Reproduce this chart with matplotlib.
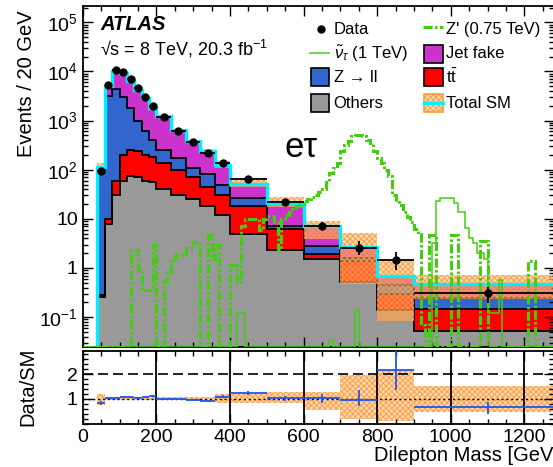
import numpy as np
import matplotlib
matplotlib.use("Agg")
import matplotlib.pyplot as plt
from matplotlib.patches import Rectangle
from matplotlib.lines import Line2D
from matplotlib.ticker import (FixedLocator, FixedFormatter, MultipleLocator,
                               NullFormatter, LogLocator)

plt.rcParams["font.family"] = ["Liberation Sans", "DejaVu Sans"]
plt.rcParams["mathtext.fontset"] = "custom"
plt.rcParams["mathtext.rm"] = "Liberation Sans"
plt.rcParams["mathtext.it"] = "Liberation Sans:italic"
plt.rcParams["mathtext.bf"] = "Liberation Sans:bold"
plt.rcParams["mathtext.sf"] = "Liberation Sans"
plt.rcParams["hatch.linewidth"] = 0.6
plt.rcParams["hatch.color"] = "#ff9933"

# ---------------- background binning and yields (events / 20 GeV) ----------------
bin_edges = [40, 60, 80, 100, 120, 140, 160, 180, 200, 240, 280, 320, 360,
             400, 500, 600, 700, 800, 900, 1300]
others = [0.26, 8, 30, 60, 75, 70, 60, 55, 40, 30, 25, 18, 12, 5, 2.3, 1.5, 0.51, 0.14, 0.052]
ttbar = [0.02, 2, 30, 140, 175, 170, 140, 125, 100, 70, 45, 27, 18, 13, 4, 0.45, 0.9, 0.16, 0.092]
zll = [105, 3200, 4400, 2800, 1550, 760, 400, 220, 110, 70, 40, 35, 20, 8, 0.7, 0.85, 0.2, 0.15, 0.096]
total_sm = [114, 5050, 10000, 9150, 6500, 4290, 2830, 1790, 1212, 633, 381, 239, 125,
            52, 21.4, 7.1, 2.66, 0.68, 0.47]
# relative systematic band on the total SM prediction
band_lo = [0.75, 0.94, 0.94, 0.94, 0.94, 0.94, 0.94, 0.94, 0.94, 0.94, 0.94, 0.92, 0.85,
           0.85, 0.83, 0.56, 0.18, 0.12, 0.49]
band_hi = [1.20, 1.06, 1.06, 1.06, 1.06, 1.06, 1.06, 1.06, 1.06, 1.06, 1.06, 1.08, 1.20,
           1.25, 1.29, 1.29, 1.97, 2.17, 1.53]

data = [95, 5200, 10500, 9700, 6900, 4500, 3000, 2000, 1200, 620, 370, 215, 135,
        64, 22, 7.3, 2.5, 1.47, 0.31]
data_err_lo = [10, 70, 100, 100, 80, 70, 55, 45, 25, 18, 14, 10, 8, 4, 2.2, 1.3, 0.64, 0.55, 0.12]
data_err_hi = [10, 70, 100, 100, 80, 70, 55, 45, 25, 18, 14, 10, 8, 4, 2.2, 1.3, 1.1, 0.63, 0.10]

# ---------------- signal templates (10 GeV bins from 0 to 1300) ----------------
sig_edges = list(range(0, 1310, 10))
zprime_075 = [
    0, 0, 0, 0, 0, 0, 0, 0, 0, 0,
    0, 0, 0, 2.3, 2.3, 0.9, 0.35, 0.35, 0.35, 3.0,
    0, 0, 0.55, 0.83, 1.5, 1.8, 1.8, 1.8, 2.5, 2.5,
    3.4, 3.4, 0, 0, 4.6, 1.5, 3.0, 0, 0, 0,
    1.15, 1.15, 0.52, 7.3, 10, 10, 10, 10, 6, 10,
    11.7, 11.7, 8.5, 2.3, 10, 12, 14, 16, 18, 20,
    23, 25, 28, 30, 35, 41, 55, 86, 108, 137,
    237, 323, 377, 477, 515, 515, 477, 407, 348, 237,
    173, 137, 100, 73, 30, 22, 18.7, 13.7, 10.8, 8.6,
    6.3, 5, 0.07, 0, 4.6, 4.6, 0, 0, 0, 0,
    4.6, 4.6, 0, 0, 0, 0, 0, 0, 3.6, 3.6,
    0, 0, 0, 0, 0, 0, 0, 0, 0, 0,
    0, 1.4, 1.4, 0, 0, 0, 0, 0, 0, 0,
]
sneutrino_1tev = [
    0, 0, 0, 0, 0, 0, 0, 0, 0, 0,
    0, 0, 0, 0, 0, 0, 0, 0, 0, 0,
    0, 0, 0, 0, 0, 0, 0, 0, 0, 0,
    0, 0, 0, 0, 0, 0, 0, 0, 0, 0,
    0, 0, 0.12, 0.12, 0, 0, 0, 0, 0, 0,
    0, 0, 0, 0, 0, 0, 0, 0, 0, 0,
    0, 0, 0, 0, 0, 0, 0, 0.035, 0, 0,
    0, 0, 0, 0, 0.14, 0, 0, 0, 0, 0,
    0, 0, 0, 0, 0, 0, 0, 0, 0, 0,
    0, 0, 0, 0, 0, 3.2, 23, 26, 26, 26,
    27, 21, 14, 14, 6.6, 4.1, 3.2, 2.0, 2.0, 1.5,
    0.12, 0.12, 0.12, 0.57, 0, 0, 0, 0, 0, 0,
    0, 0, 0, 0, 0, 0, 0, 0, 0, 0,
]

yticks_main = [0.1, 1, 10, 100, 1e3, 1e4, 1e5]
yticklabels_main = [r"$10^{-1}$", "1", "10", r"$10^{2}$", r"$10^{3}$", r"$10^{4}$", r"$10^{5}$"]

# ---------------- colours ----------------
c_others = "#999999"
c_ttbar = "#ff0000"
c_zll = "#3366cc"
c_fake = "#cc33cc"
c_total = "#00f0ff"
c_band = "#ff9933"
band_fc = (1.0, 0.72, 0.45, 0.55)
c_sig = "#44cc11"
c_ratio = "#2255ee"

W, H = 553, 467
fig = plt.figure(figsize=(W / 100, H / 100), dpi=100)


def px_rect(x0, y0, x1, y1):
    return [x0 / W, 1 - y1 / H, (x1 - x0) / W, (y1 - y0) / H]


def fx(x):
    return x / W


def fy(y):
    return 1 - y / H


ax = fig.add_axes(px_rect(82.7, 5.5, 553.8, 346.7))
rax = fig.add_axes(px_rect(82.7, 350.5, 553.8, 423.7))

YMIN, YMAX = 0.025, 2.2e5
XMAX = 1280

edges = np.array(bin_edges, dtype=float)
centers = 0.5 * (edges[1:] + edges[:-1])
halfw = 0.5 * (edges[1:] - edges[:-1])
o = np.array(others)
t = np.array(ttbar)
z = np.array(zll)
tot = np.array(total_sm)
lv1 = o
lv2 = o + t
lv3 = o + t + z
lv4 = tot
floor = np.full_like(tot, 1e-5)

# stacked backgrounds
for lower, upper, col in [(floor, lv1, c_others), (lv1, lv2, c_ttbar),
                          (lv2, lv3, c_zll), (lv3, lv4, c_fake)]:
    ax.stairs(upper, edges, baseline=lower, fill=True, facecolor=col,
              edgecolor="none", linewidth=0, zorder=1)
for lev in [lv1, lv2, lv3, lv4]:
    ax.stairs(lev, edges, baseline=None, color="k", linewidth=1.3, zorder=2)

# total SM uncertainty band
ax.stairs(tot * np.array(band_hi), edges, baseline=tot * np.array(band_lo), fill=True,
          facecolor=band_fc, edgecolor=c_band, hatch="xxxxxx",
          linewidth=0, zorder=3)
ax.stairs(tot, edges, baseline=1e-5, color=c_total, linewidth=2.4, zorder=4)

# signals
sig_e = np.array(sig_edges, dtype=float)
zp = np.array(zprime_075, dtype=float)
sn = np.array(sneutrino_1tev, dtype=float)
ax.stairs(np.where(zp > 0, zp, YMIN), sig_e, baseline=None, color=c_sig,
          linewidth=2.2, linestyle=(0, (3.0, 0.8, 0.8, 0.8)), zorder=5)
ax.stairs(np.where(sn > 0, sn, YMIN), sig_e, baseline=None, color=c_sig,
          linewidth=1.1, zorder=5)

# data
d = np.array(data)
ax.errorbar(centers, d, xerr=halfw, yerr=[data_err_lo, data_err_hi], fmt="o",
            color="k", markersize=5, elinewidth=1.3, capsize=0, zorder=6)

ax.set_yscale("log")
ax.set_ylim(YMIN, YMAX)
ax.set_xlim(0, XMAX)
ax.yaxis.set_major_locator(FixedLocator(yticks_main))
ax.yaxis.set_major_formatter(FixedFormatter(yticklabels_main))
ax.yaxis.set_minor_locator(LogLocator(base=10, subs=np.arange(2, 10), numticks=30))
ax.yaxis.set_minor_formatter(NullFormatter())
ax.xaxis.set_major_locator(MultipleLocator(200))
ax.xaxis.set_minor_locator(MultipleLocator(50))
ax.tick_params(axis="x", labelbottom=False)

for a in (ax, rax):
    a.tick_params(which="both", direction="in", top=True, right=True, width=1.0,
                  labelsize=14, pad=3.5)
    a.tick_params(which="major", length=7.5)
    a.tick_params(which="minor", length=3.8)
    for s in a.spines.values():
        s.set_linewidth(1.3)

ax.set_ylabel("Events / 20 GeV", fontsize=14.5, loc="top")
ax.yaxis.set_label_coords(-0.100, 0.985)

# ratio panel
ratio = d / tot
rerr_lo = np.array(data_err_lo) / tot
rerr_hi = np.array(data_err_hi) / tot
rax.stairs(np.array(band_hi), edges, baseline=np.array(band_lo), fill=True,
           facecolor=band_fc, edgecolor=c_band, hatch="xxxxxx",
           linewidth=0, zorder=1)
for gx in range(200, 1300, 200):
    rax.axvline(gx, color="k", linewidth=1.3, zorder=2)
rax.axhline(2, color="k", linewidth=1.2, linestyle=(0, (6, 3)), zorder=2)
rax.axhline(1, color="k", linewidth=1.0, linestyle=(0, (1.5, 2)), zorder=2)
rax.errorbar(centers, ratio, xerr=halfw, yerr=[rerr_lo, rerr_hi], fmt="none",
             ecolor=c_ratio, elinewidth=1.3, capsize=0, zorder=3)
rax.set_xlim(0, XMAX)
rax.set_ylim(0, 2.95)
rax.yaxis.set_major_locator(FixedLocator([1, 2]))
rax.yaxis.set_minor_locator(MultipleLocator(0.2))
rax.xaxis.set_major_locator(MultipleLocator(200))
rax.xaxis.set_minor_locator(MultipleLocator(50))
rax.set_ylabel("Data/SM", fontsize=14.5)
rax.yaxis.set_label_coords(-0.097, 0.5)
rax.set_xlabel("Dilepton Mass [GeV]", fontsize=14.5, loc="right")
rax.xaxis.set_label_coords(1.012, -0.30)

# labels
fig.text(fx(100), fy(29.5), "ATLAS", fontsize=14.5, fontweight="bold", fontstyle="italic",
         va="baseline", ha="left")
fig.text(fx(100), fy(55), "√s = 8 TeV, 20.3 fb$^{-1}$", fontsize=13,
         va="baseline", ha="left")
fig.text(fx(285), fy(157), "eτ", fontsize=25, va="baseline", ha="left")

# legend
leg_fs = 12
def box(x0, y0, x1, y1, fc, ec="k", hatch=None):
    r = Rectangle((fx(x0), fy(y1)), fx(x1) - fx(x0), fy(y0) - fy(y1),
                  transform=fig.transFigure, facecolor=fc, edgecolor=ec,
                  linewidth=1.2 if ec != "none" else 0, hatch=hatch, clip_on=False)
    fig.add_artist(r)

fig.add_artist(Line2D([fx(320.7)], [fy(29.3)], marker="o", markersize=5, color="k",
                      transform=fig.transFigure))
fig.add_artist(Line2D([fx(310), fx(329)], [fy(53.3), fy(53.3)], color=c_sig,
                      linewidth=1.1, transform=fig.transFigure))
box(310.7, 68, 329.3, 86, c_zll)
box(310.7, 94, 329.3, 112, c_others)
fig.add_artist(Line2D([fx(423), fx(443)], [fy(27), fy(27)], color=c_sig, linewidth=2.2,
                      linestyle=(0, (3.0, 0.8, 0.8, 0.8)), transform=fig.transFigure))
box(424, 45, 442.7, 62.7, c_fake)
box(424, 68, 442.7, 86, c_ttbar)
box(424, 94, 442.7, 112, band_fc, ec=c_band, hatch="xxxxxx")
fig.add_artist(Line2D([fx(424), fx(442.7)], [fy(103), fy(103)], color=c_total,
                      linewidth=2.4, transform=fig.transFigure))

col1 = [("Data", 29.5), (r"$\tilde{\nu}_{\tau}$ (1 TeV)", 53.5), ("Z → ll", 77),
        ("Others", 103)]
col2 = [("Z' (0.75 TeV)", 29.5), ("Jet fake", 53.5), (r"$\mathrm{t\bar{t}}$", 77),
        ("Total SM", 103)]
for txt, yy in col1:
    fig.text(fx(333.5), fy(yy), txt, fontsize=leg_fs, va="center", ha="left")
for txt, yy in col2:
    fig.text(fx(445.5), fy(yy), txt, fontsize=leg_fs, va="center", ha="left")

fig.savefig("out.png", dpi=100)
